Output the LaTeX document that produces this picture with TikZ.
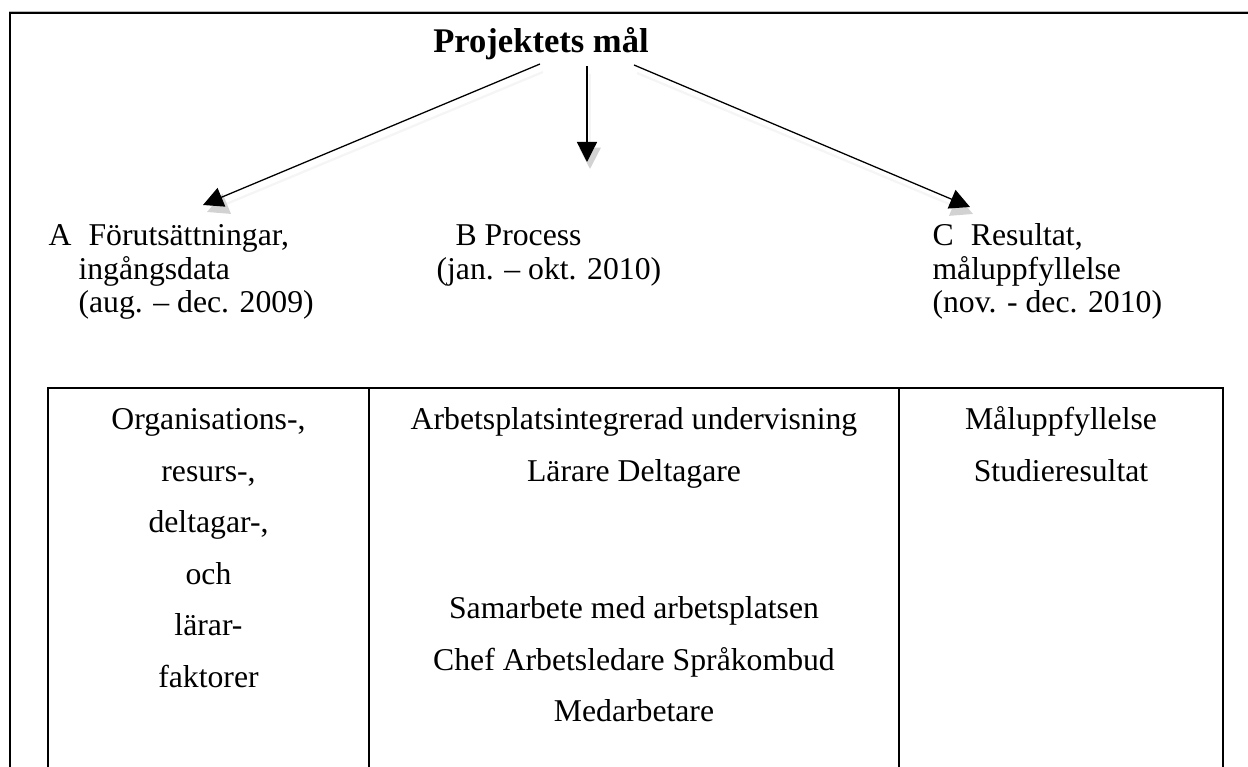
\documentclass[tikz,border=0pt]{standalone}
\usepackage{fontspec}
\setmainfont{Liberation Serif}
\usetikzlibrary{arrows.meta}
\begin{document}
\begin{tikzpicture}[x=0.35pt,y=-0.35pt,
  frameline/.style={line width=1.05pt,draw=gray!55},
  framecore/.style={line width=0.45pt,draw=black},
  cellline/.style={line width=0.9pt,draw=black},
  body/.style={font=\fontsize{11.1}{13}\selectfont,inner sep=0pt,anchor=base},
  lbl/.style={font=\fontsize{11.1}{13}\selectfont,inner sep=0pt,anchor=base west},
  ttl/.style={font=\fontsize{12.1}{14}\selectfont\bfseries,inner sep=0pt,anchor=base},
  arr/.style={line width=0.45pt,-{Triangle[length=7pt,width=7pt]}},
  arrshadow/.style={line width=0.8pt,draw=gray!8,-{Triangle[length=7.5pt,width=7.5pt,color=gray!35]}}
]
\useasboundingbox (0,0) rectangle (1248,767);
\begin{scope}
\clip (0,0) rectangle (1248,767);
% outer frame
\draw[frameline] (10,780) -- (10,13) -- (1260,13);
\draw[framecore] (10,780) -- (10,13) -- (1260,13);
% table
\draw[cellline] (48,780) -- (48,388) -- (1223,388) -- (1223,780);
\draw[cellline] (369,388) -- (369,780);
\draw[cellline] (899,388) -- (899,780);
\end{scope}

% title
\node[ttl] (title) at (541,53) {Projektets mål};

% arrow coordinates
\coordinate (sA) at (540,64);
\coordinate (sB) at (587,66);
\coordinate (sC) at (634,65);
\coordinate (eA) at (203,205);
\coordinate (eB) at (587,162);
\coordinate (eC) at (970,207);
\coordinate (hA) at (207,212);
\coordinate (hB) at (590,169);
\coordinate (hC) at (973,214);
\coordinate (gA) at (543,72);
\coordinate (gB) at (590,74);
\coordinate (gC) at (637,73);

% shadows
\draw[arrshadow] (gA) -- (hA);
\draw[arrshadow] (gB) -- (hB);
\draw[arrshadow] (gC) -- (hC);
% arrows
\draw[arr] (sA) -- (eA);
\draw[arr] (sB) -- (eB);
\draw[arr] (sC) -- (eC);

% labels
\node[lbl] (a1) at (48,246) {A\hspace{6pt}Förutsättningar,};
\node[lbl] (a2) at (78,280) {ingångsdata};
\node[lbl] (a3) at (78,313) {(aug. – dec. 2009)};
\node[lbl] (b1) at (455,246) {B Process};
\node[lbl] (b2) at (436,280) {(jan. – okt. 2010)};
\node[lbl] (c1) at (932,246) {C\hspace{6pt}Resultat,};
\node[lbl] (c2) at (932,280) {måluppfyllelse};
\node[lbl] (c3) at (932,313) {(nov. - dec. 2010)};

% left cell
\node[body] (l1) at (208.5,430) {Organisations-,};
\node[body] (l2) at (208.5,481.5) {resurs-,};
\node[body] (l3) at (208.5,533) {deltagar-,};
\node[body] (l4) at (208.5,584.5) {och};
\node[body] (l5) at (208.5,636) {lärar-};
\node[body] (l6) at (208.5,687.5) {faktorer};

% middle cell
\node[body] (m1) at (634,430) {Arbetsplatsintegrerad undervisning};
\node[body] (m2) at (634,481.5) {Lärare Deltagare};
\node[body] (m3) at (634,619) {Samarbete med arbetsplatsen};
\node[body] (m4) at (634,670.5) {Chef Arbetsledare Språkombud};
\node[body] (m5) at (634,722) {Medarbetare};

% right cell
\node[body] (r1) at (1061,430) {Måluppfyllelse};
\node[body] (r2) at (1061,481.5) {Studieresultat};
\end{tikzpicture}
\end{document}
